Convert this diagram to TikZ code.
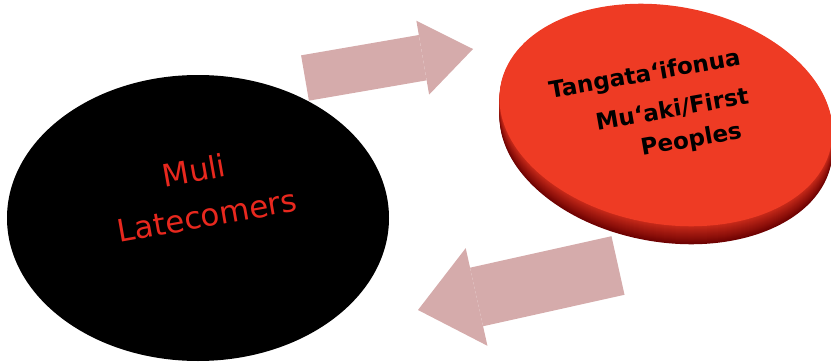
\documentclass[tikz,border=0pt]{standalone}
\usepackage{fontspec}
\setmainfont{DejaVu Sans}
\usetikzlibrary{arrows.meta,shapes.geometric}
\definecolor{flow}{HTML}{D5ABAB}
\definecolor{disk}{HTML}{EE3B24}
\definecolor{diskedge}{HTML}{6E0202}
\definecolor{latered}{HTML}{E8281E}

\begin{document}
\begin{tikzpicture}[x=1pt,y=-1pt,
    flowarrow/.style n args={3}{flow, line width=#1,
      -{Triangle[length=#2,width=#3,line width=0pt]}},
    latelabel/.style={font=\fontsize{31}{37}\selectfont, text=latered,
      rotate=10, anchor=base, inner sep=0pt},
    disklabel/.style={font=\bfseries\fontsize{23}{28}\selectfont, text=black,
      rotate=10, anchor=base, inner sep=0pt}]
  \useasboundingbox (0,0) rectangle (831,364);
    % arrows between the two groups
    \coordinate (togo) at (305,78);
    \coordinate (toend) at (473,49);
    \coordinate (backgo) at (618,265.5);
    \coordinate (backend) at (418,310);
    \draw[flowarrow={46pt}{51pt}{75pt}] (togo) -- (toend);
    \draw[flowarrow={60pt}{60pt}{100pt}] (backgo) -- (backend);
    % black group
    \node[ellipse, fill=black, inner sep=0pt, minimum width=382pt,
      minimum height=286pt] (latecomers) at (198,218) {};
    \node[latelabel] (muli) at (196,181.7) {Muli};
    \node[latelabel] (late) at (209,226.7) {Latecomers};
    % red disk, edge first
    \foreach \k in {18,17,...,1} {
      \pgfmathtruncatemacro\p{30+70*\k/18}
      \fill[diskedge!\p!disk, rotate around={-10:(666,{115+\k})}]
        (666,{115+\k}) ellipse [x radius=168pt, y radius=109pt];
    }
    \node[ellipse, fill=disk, inner sep=0pt, rotate=-10, minimum width=336pt,
      minimum height=218pt] (first) at (666,115) {};
    \node[disklabel] (tanga) at (646,81.7) {Tangata‘ifonua};
    \node[disklabel] (muaki) at (673.5,117) {Mu‘aki/First};
    \node[disklabel] (peoples) at (692.5,147) {Peoples};
\end{tikzpicture}
\end{document}
